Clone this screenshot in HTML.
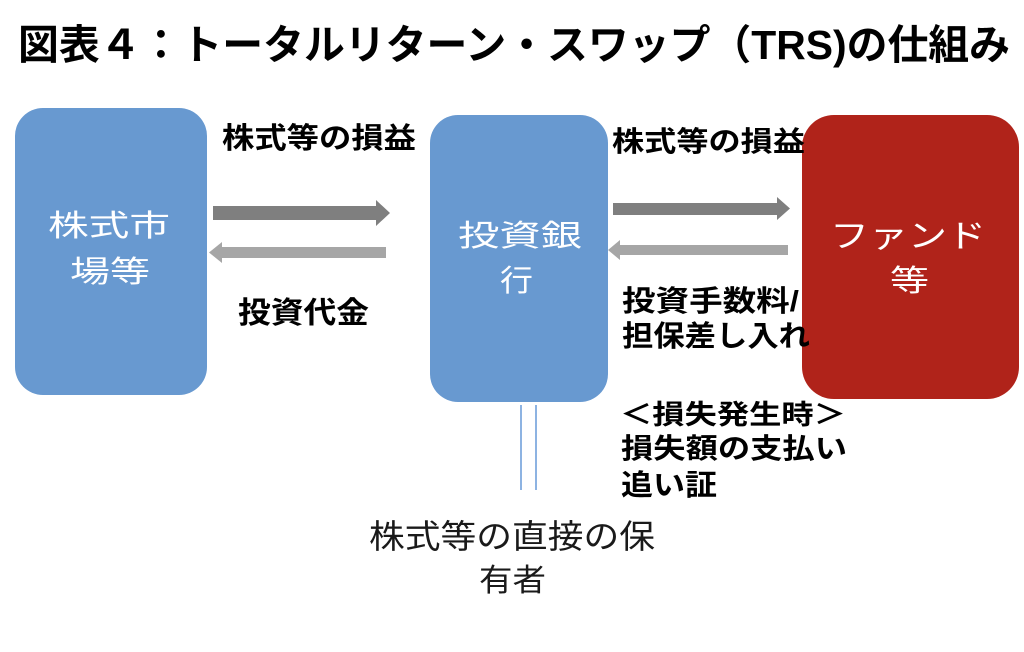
<!DOCTYPE html>
<html>
<head>
<meta charset="utf-8">
<style>
  html, body { margin: 0; padding: 0; background: #ffffff; }
  body { width: 1024px; height: 652px; overflow: hidden; }
  svg { display: block; }
  .t { font-family: "Liberation Sans", "Noto Sans CJK JP", sans-serif; }
  .b { font-weight: 700; fill: #000000; }
  .w { font-weight: 400; fill: #ffffff; }
  .n { font-weight: 400; fill: #1a1a1a; }
</style>
</head>
<body>
<svg width="1024" height="652" viewBox="0 0 1024 652" xmlns="http://www.w3.org/2000/svg">
  <rect x="0" y="0" width="1024" height="652" fill="#ffffff"/>

  <!-- Title -->
  <text class="t b" x="18" y="59" font-size="41" textLength="992" lengthAdjust="spacingAndGlyphs">図表４：トータルリターン・スワップ（TRS)の仕組み</text>

  <!-- Boxes -->
  <rect x="15" y="108" width="192" height="287" rx="28" ry="28" fill="#6899d0"/>
  <rect x="430" y="115" width="178" height="287" rx="28" ry="28" fill="#6899d0"/>
  <rect x="802" y="115" width="217" height="284" rx="32" ry="32" fill="#b0231a"/>

  <!-- Box texts -->
  <text class="t w" x="48" y="236" font-size="30" textLength="122" lengthAdjust="spacingAndGlyphs">株式市</text>
  <text class="t w" x="70" y="282" font-size="30" textLength="80" lengthAdjust="spacingAndGlyphs">場等</text>

  <text class="t w" x="458" y="246" font-size="30" textLength="124" lengthAdjust="spacingAndGlyphs">投資銀</text>
  <text class="t w" x="500" y="291" font-size="30" textLength="33" lengthAdjust="spacingAndGlyphs">行</text>

  <text class="t w" x="830" y="247" font-size="32" textLength="156" lengthAdjust="spacingAndGlyphs">ファンド</text>
  <text class="t w" x="890" y="291" font-size="30" textLength="39" lengthAdjust="spacingAndGlyphs">等</text>

  <!-- Arrows left pair -->
  <polygon points="213,206 376,206 376,200 390,213 376,226 376,220 213,220" fill="#7f7f7f"/>
  <polygon points="209,252.5 222,242 222,247 386,247 386,258 222,258 222,263" fill="#a6a6a6"/>

  <!-- Arrows right pair -->
  <polygon points="613,203 777,203 777,197 790,208.5 777,220 777,215 613,215" fill="#7f7f7f"/>
  <polygon points="608,250 620,240 620,245 788,245 788,255 620,255 620,260" fill="#a6a6a6"/>

  <!-- Left labels -->
  <text class="t b" x="222" y="148" font-size="29" textLength="194" lengthAdjust="spacingAndGlyphs">株式等の損益</text>
  <text class="t b" x="238" y="323" font-size="30" textLength="131" lengthAdjust="spacingAndGlyphs">投資代金</text>

  <!-- Right labels -->
  <text class="t b" x="612" y="151" font-size="28" textLength="193" lengthAdjust="spacingAndGlyphs">株式等の損益</text>
  <text class="t b" x="622" y="311" font-size="29" textLength="177" lengthAdjust="spacingAndGlyphs">投資手数料/</text>
  <text class="t b" x="622" y="346" font-size="29" textLength="188" lengthAdjust="spacingAndGlyphs">担保差し入れ</text>

  <text class="t b" x="620" y="424" font-size="27" textLength="226" lengthAdjust="spacingAndGlyphs">＜損失発生時＞</text>
  <text class="t b" x="621" y="458" font-size="28" textLength="226" lengthAdjust="spacingAndGlyphs">損失額の支払い</text>
  <text class="t b" x="621" y="495" font-size="29" textLength="96" lengthAdjust="spacingAndGlyphs">追い証</text>

  <!-- Double line (equals) below bank -->
  <line x1="521" y1="405" x2="521" y2="490" stroke="#8db3e2" stroke-width="2"/>
  <line x1="536" y1="405" x2="536" y2="490" stroke="#8db3e2" stroke-width="2"/>

  <!-- Bottom caption -->
  <text class="t n" x="369" y="548" font-size="33" textLength="286" lengthAdjust="spacingAndGlyphs">株式等の直接の保</text>
  <text class="t n" x="479" y="591" font-size="31" textLength="67" lengthAdjust="spacingAndGlyphs">有者</text>
</svg>
</body>
</html>
